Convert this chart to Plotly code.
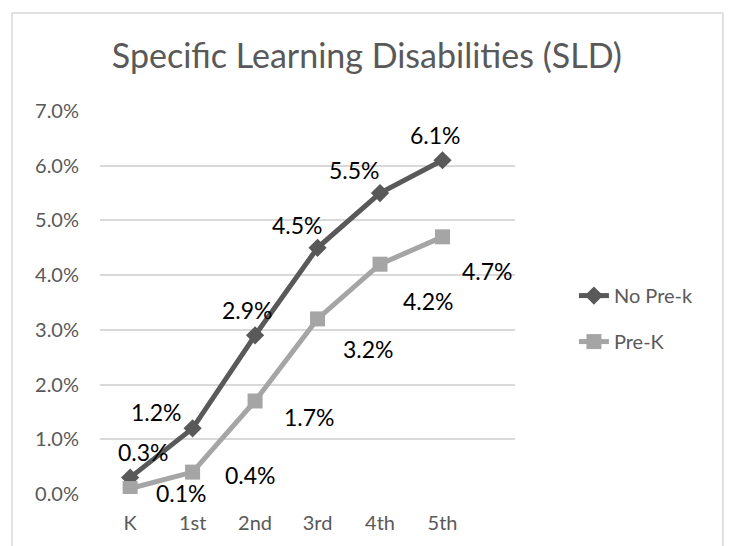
import plotly.graph_objects as go

grades = ['K', '1st', '2nd', '3rd', '4th', '5th']
no_prek = [0.3, 1.2, 2.9, 4.5, 5.5, 6.1]
prek = [0.1, 0.4, 1.7, 3.2, 4.2, 4.7]
y_ticks = [0, 1, 2, 3, 4, 5, 6, 7]

# pixel offsets of the data labels (x, y-down), as placed in the original
no_prek_label_off = [(13, -26), (-36, -16), (-8, -25), (-20, -23), (-26, -23), (-7, -25)]
prek_label_off = [(51, 4), (58, 3), (54, 16), (51, 30), (48, 37), (45, 34)]

FONT = 'Lato'
DARK = '#595959'
LIGHT = '#a5a5a5'

fig = go.Figure()
fig.add_trace(go.Scatter(
    x=grades, y=no_prek, name='No Pre-k', mode='lines+markers', legendgroup='a',
    line=dict(color=DARK, width=5),
    marker=dict(symbol='diamond', size=14, color=DARK)
))
fig.add_trace(go.Scatter(
    x=grades, y=prek, name='Pre-K', mode='lines+markers', legendgroup='b',
    line=dict(color=LIGHT, width=5),
    marker=dict(symbol='square', size=15, color=LIGHT)
))

annotations = []
for vals, offs in [(no_prek, no_prek_label_off), (prek, prek_label_off)]:
    for g, v, (dx, dy) in zip(grades, vals, offs):
        annotations.append(dict(
            x=g, y=v, text=f'{v:.1f}%', showarrow=False,
            xshift=dx, yshift=-dy,
            font=dict(family=FONT, size=23, color='#000000')
        ))

# page body adds 8px margin, so the figure is 725x538
fig.update_layout(
    width=725, height=538,
    margin=dict(l=92, r=218, t=103, b=52),
    paper_bgcolor='white', plot_bgcolor='white',
    title=dict(text='Specific Learning Disabilities (SLD)',
               x=0.495, xanchor='center', xref='container',
               y=0.911, yanchor='middle', yref='container',
               font=dict(family=FONT, size=34, color=DARK)),
    font=dict(family=FONT, color=DARK),
    legend=dict(x=1.142, y=0.458, xanchor='left', yanchor='middle',
                font=dict(family=FONT, size=20, color=DARK),
                traceorder='grouped', tracegroupgap=17, bgcolor='rgba(0,0,0,0)'),
    annotations=annotations,
    shapes=[dict(type='rect', xref='paper', yref='paper',
                 x0=-0.212, x1=1.501, y0=-0.3, y1=1.256,
                 line=dict(color='#d9d9d9', width=1.5), layer='below')],
)
fig.update_xaxes(showgrid=False, showline=False, zeroline=False, ticks='',
                 ticklabelstandoff=15, tickfont=dict(size=20, color=DARK))
fig.update_yaxes(range=[0, 7], tickvals=y_ticks, ticktext=[f'{t:.1f}%' for t in y_ticks],
                 showgrid=True, gridcolor='#d9d9d9', gridwidth=1.5, zeroline=False,
                 showline=False, ticks='', ticklabelstandoff=20,
                 tickfont=dict(size=20, color=DARK))

fig.write_html('out.html')
